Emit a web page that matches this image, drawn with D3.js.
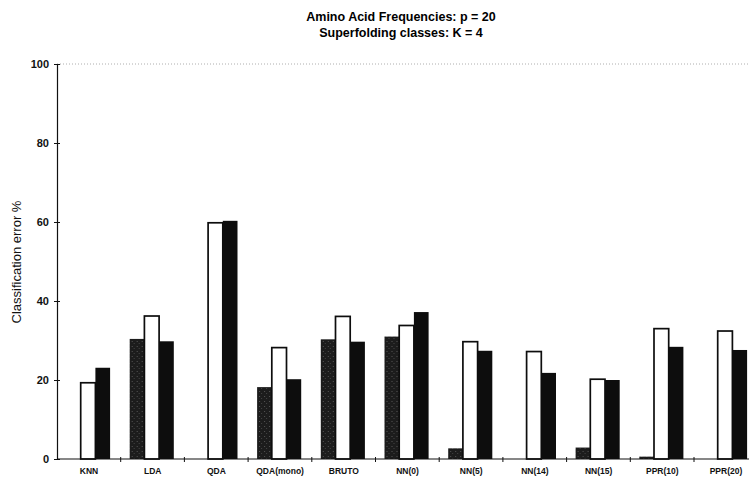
<!DOCTYPE html>
<html>
<head>
<meta charset="utf-8">
<script src="https://cdn.jsdelivr.net/npm/d3@7"></script>
<style>
  html, body { margin: 0; padding: 0; background: #fff; }
  svg { display: block; }
</style>
</head>
<body>
<svg id="chart" width="749" height="477"></svg>
<script>
// Classification error (%) per method, three bars per method
const methods = ["KNN", "LDA", "QDA", "QDA(mono)", "BRUTO", "NN(0)", "NN(5)", "NN(14)", "NN(15)", "PPR(10)", "PPR(20)"];
const seriesNames = ["train", "cv", "test"];
const trainError = [0, 30.4, 0, 18.2, 30.3, 31.0, 2.7, 0, 2.9, 0.6, 0];
const cvError    = [19.3, 36.2, 59.8, 28.2, 36.1, 33.8, 29.7, 27.2, 20.2, 33.0, 32.4];
const testError  = [23.1, 29.8, 60.3, 20.2, 29.7, 37.2, 27.4, 21.8, 20.0, 28.4, 27.6];
const yTicks = [0, 20, 40, 60, 80, 100];

const svg = d3.select("#chart");
const x0 = 57, band = 63.7;
const y = d3.scaleLinear().domain([0, 100]).range([459, 64]);
const x = d3.scaleBand().domain(methods).range([x0, x0 + band * methods.length]).paddingInner(0).paddingOuter(0);
const xs = d3.scaleBand().domain(seriesNames).range([9, 9 + 3 * 14.7]);

// speckled near-black fill for the first series
const defs = svg.append("defs");
const pat = defs.append("pattern").attr("id", "speck").attr("patternUnits", "userSpaceOnUse")
  .attr("width", 5).attr("height", 5);
pat.append("rect").attr("width", 5).attr("height", 5).attr("fill", "#1c1c1c");
pat.append("rect").attr("x", 1).attr("y", 1).attr("width", 1).attr("height", 1).attr("fill", "#555");
pat.append("rect").attr("x", 3).attr("y", 3).attr("width", 1).attr("height", 1).attr("fill", "#444");

// title
const title = svg.append("g").attr("font-family", "Liberation Sans, Arial, sans-serif")
  .attr("font-weight", "bold").attr("font-size", 12.5).attr("text-anchor", "middle").attr("fill", "#000");
title.append("text").attr("x", 401).attr("y", 21).text("Amino Acid Frequencies: p = 20");
title.append("text").attr("x", 401).attr("y", 37).text("Superfolding classes: K = 4");

// dotted line at the top of the scale
svg.append("line").attr("x1", x0).attr("x2", 749).attr("y1", y(100)).attr("y2", y(100))
  .attr("stroke", "#999").attr("stroke-width", 0.8).attr("stroke-dasharray", "1,2");

// bars
const rows = methods.map((m, i) => ({ m, vals: [trainError[i], cvError[i], testError[i]] }));
const fills = { train: "url(#speck)", cv: "#fff", test: "#0d0d0d" };
const groups = svg.append("g").selectAll("g").data(rows).join("g")
  .attr("transform", d => `translate(${x(d.m)},0)`);
groups.selectAll("rect").data(d => d.vals.map((v, k) => ({ s: seriesNames[k], v })).filter(e => e.v > 0))
  .join("rect")
  .attr("x", e => xs(e.s))
  .attr("width", xs.bandwidth())
  .attr("y", e => y(e.v))
  .attr("height", e => y(0) - y(e.v))
  .attr("fill", e => fills[e.s])
  .attr("stroke", e => e.s === "cv" ? "#0d0d0d" : "none")
  .attr("stroke-width", 1.7);

// y axis
const yAxis = svg.append("g").attr("transform", `translate(${x0},0)`)
  .call(d3.axisLeft(y).tickValues(yTicks).tickSize(3).tickSizeOuter(0));
yAxis.select(".domain").attr("stroke", "#111").attr("stroke-width", 1.2);
yAxis.selectAll(".tick line").attr("x2", 3).attr("x1", -3).attr("stroke", "#111");
yAxis.selectAll(".tick text").attr("x", -8).attr("font-size", 11).attr("font-weight", "bold")
  .attr("font-family", "Liberation Sans, Arial, sans-serif").attr("fill", "#111");

// x axis with ticks at category boundaries
const xAxisG = svg.append("g").attr("transform", `translate(0,${y(0)})`);
xAxisG.append("line").attr("x1", x0).attr("x2", 749).attr("stroke", "#111").attr("stroke-width", 1.2);
xAxisG.selectAll("line.b").data(methods.slice(1)).join("line").attr("class", "b")
  .attr("x1", d => x(d)).attr("x2", d => x(d)).attr("y1", -2).attr("y2", 3)
  .attr("stroke", "#111");
xAxisG.selectAll("text").data(methods).join("text")
  .attr("x", d => x(d) + 32).attr("y", 15)
  .attr("text-anchor", "middle").attr("font-size", 8.5).attr("font-weight", "bold")
  .attr("font-family", "Liberation Sans, Arial, sans-serif").attr("fill", "#111")
  .text(d => d);

// y axis title
svg.append("text").attr("transform", "translate(21,262) rotate(-90)")
  .attr("text-anchor", "middle").attr("font-size", 13)
  .attr("font-family", "Liberation Sans, Arial, sans-serif").attr("fill", "#111")
  .text("Classification error %");
</script>
</body>
</html>
